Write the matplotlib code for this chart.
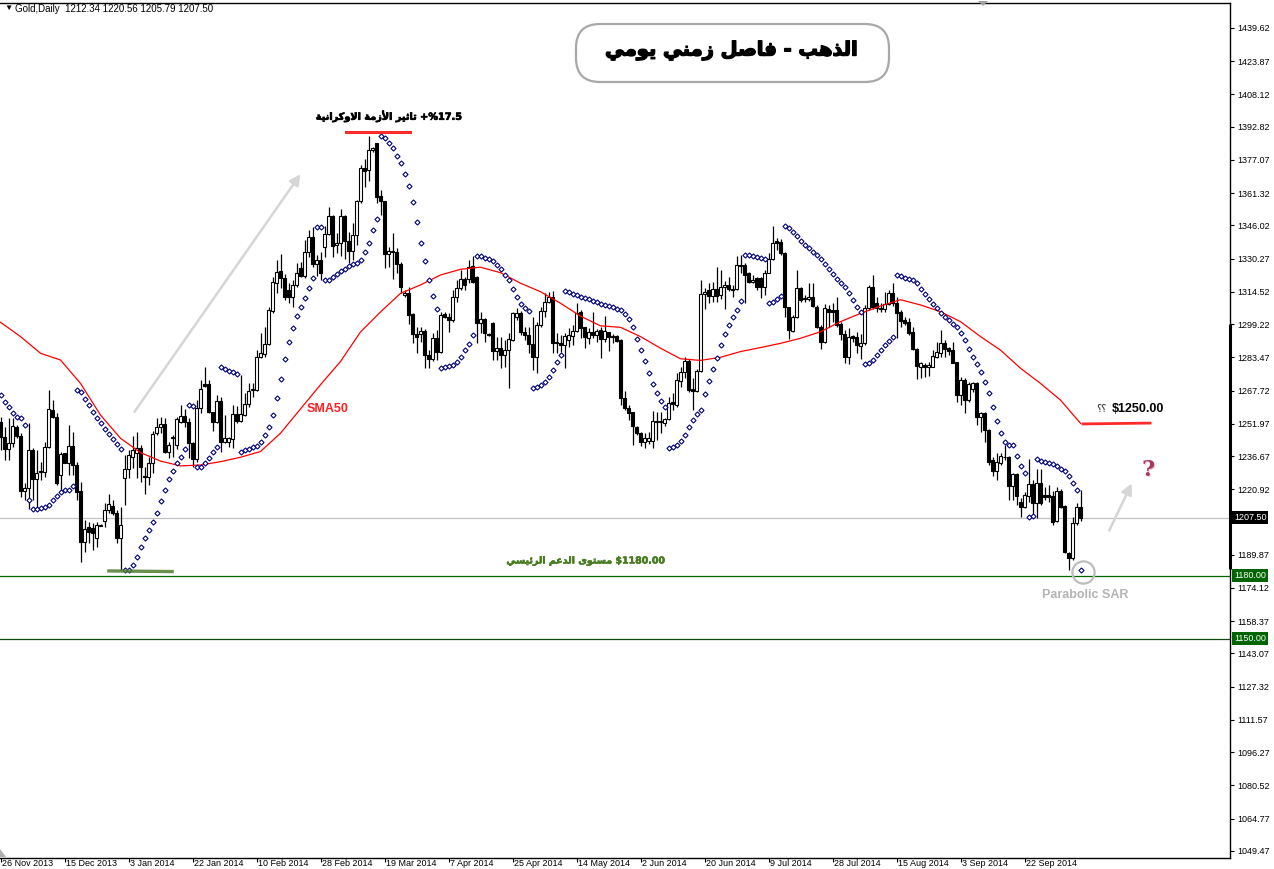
import numpy as np
import matplotlib
matplotlib.use('Agg')
import matplotlib.pyplot as plt
import matplotlib.patheffects as pe
from matplotlib.patches import FancyBboxPatch, Polygon
from matplotlib.transforms import Affine2D, ScaledTranslation, blended_transform_factory

plt.rcParams['font.family'] = ['Liberation Sans', 'DejaVu Sans']

# ---- data (Gold, daily bars) ----
date_labels = ['26 Nov 2013', '15 Dec 2013', '3 Jan 2014', '22 Jan 2014', '10 Feb 2014',
               '28 Feb 2014', '19 Mar 2014', '7 Apr 2014', '25 Apr 2014', '14 May 2014',
               '2 Jun 2014', '20 Jun 2014', '9 Jul 2014', '28 Jul 2014', '15 Aug 2014',
               '3 Sep 2014', '22 Sep 2014']
date_bars = [0, 16, 32, 48, 64, 80, 96, 112, 128, 144, 160, 176, 192, 208, 224, 240, 256]

price_ticks = [1439.62, 1423.87, 1408.12, 1392.82, 1377.07, 1361.32, 1346.02, 1330.27,
               1314.52, 1299.22, 1283.47, 1267.72, 1251.97, 1236.67, 1220.92, 1205.17,
               1189.87, 1174.12, 1158.37, 1143.07, 1127.32, 1111.57, 1096.27, 1080.52,
               1064.77, 1049.47]

opens = [
    1253.0, 1245.9, 1239.9, 1242.7, 1250.6, 1246.2, 1220.3, 1221.4, 1239.5, 1225.6,
    1229.0, 1229.3, 1240.8, 1258.5, 1255.0, 1227.7, 1238.0, 1233.5, 1241.4, 1232.4,
    1220.1, 1196.1, 1202.9, 1202.4, 1198.0, 1204.0, 1206.0, 1211.1, 1213.0, 1209.8,
    1198.0, 1226.1, 1230.4, 1236.4, 1238.0, 1240.3, 1226.9, 1226.9, 1233.2, 1247.8,
    1250.3, 1251.9, 1238.8, 1245.1, 1241.9, 1252.8, 1255.7, 1252.7, 1242.7, 1235.1,
    1259.3, 1270.8, 1270.8, 1257.4, 1253.0, 1262.8, 1243.5, 1243.5, 1244.6, 1256.6,
    1253.4, 1256.1, 1261.2, 1268.0, 1268.0, 1283.5, 1285.0, 1289.6, 1305.6, 1318.6,
    1324.4, 1321.3, 1315.4, 1312.3, 1317.8, 1325.7, 1322.2, 1333.3, 1340.4, 1327.6,
    1329.6, 1336.0, 1341.8, 1350.7, 1336.8, 1337.5, 1350.5, 1338.8, 1334.1, 1341.5,
    1357.6, 1373.1, 1372.3, 1381.8, 1384.9, 1360.0, 1357.6, 1332.5, 1333.3, 1333.6,
    1327.7, 1312.9, 1313.8, 1303.9, 1294.4, 1294.4, 1296.1, 1284.6, 1282.6, 1292.5,
    1286.2, 1303.9, 1302.8, 1301.2, 1311.9, 1316.2, 1320.5, 1320.5, 1327.0, 1321.7,
    1299.6, 1301.5, 1294.4, 1299.6, 1286.5, 1287.8, 1284.6, 1287.0, 1291.7, 1302.8,
    1304.7, 1295.7, 1294.1, 1289.8, 1283.8, 1298.8, 1305.6, 1309.9, 1312.3, 1290.9,
    1290.5, 1289.4, 1291.7, 1293.6, 1296.1, 1305.0, 1297.7, 1292.5, 1295.5, 1294.2,
    1296.5, 1292.0, 1295.4, 1293.0, 1293.8, 1291.7, 1264.1, 1259.3, 1257.6, 1250.6,
    1247.8, 1243.1, 1244.0, 1244.0, 1253.0, 1253.2, 1252.2, 1254.1, 1262.5, 1260.9,
    1272.4, 1276.7, 1281.9, 1268.3, 1267.7, 1277.2, 1313.5, 1315.4, 1312.6, 1315.7,
    1312.9, 1316.7, 1317.6, 1315.7, 1315.7, 1326.8, 1327.3, 1323.3, 1319.4, 1320.9,
    1320.9, 1317.0, 1323.6, 1330.0, 1338.6, 1338.3, 1333.1, 1307.2, 1296.1, 1302.8,
    1316.2, 1311.0, 1311.0, 1311.9, 1307.5, 1298.0, 1290.9, 1306.2, 1305.9, 1305.9,
    1299.3, 1294.5, 1283.5, 1293.6, 1292.9, 1288.8, 1290.1, 1306.7, 1317.0, 1309.4,
    1307.0, 1306.2, 1308.7, 1314.1, 1309.1, 1305.1, 1301.2, 1300.4, 1295.6, 1287.2,
    1279.0, 1279.8, 1279.0, 1279.0, 1283.8, 1285.7, 1290.4, 1287.7, 1286.9, 1281.4,
    1265.6, 1272.7, 1263.2, 1268.3, 1271.5, 1255.3, 1257.2, 1249.0, 1234.8, 1229.7,
    1233.5, 1236.1, 1236.4, 1222.5, 1228.2, 1215.1, 1212.7, 1217.7, 1223.4, 1214.3,
    1223.7, 1218.2, 1218.2, 1217.7, 1206.0, 1220.3, 1213.0, 1190.9, 1188.2, 1204.8,
    1212.34]

highs = [
    1255.3, 1250.6, 1254.5, 1254.5, 1251.4, 1247.4, 1223.7, 1252.2, 1240.3, 1239.5,
    1234.0, 1243.5, 1268.0, 1263.2, 1256.9, 1238.8, 1238.3, 1251.4, 1248.2, 1234.0,
    1224.5, 1206.4, 1205.6, 1204.8, 1205.6, 1204.4, 1214.3, 1218.5, 1215.8, 1211.1,
    1212.7, 1237.2, 1239.5, 1246.2, 1248.2, 1241.9, 1231.6, 1236.4, 1248.7, 1254.5,
    1255.0, 1254.9, 1243.5, 1246.6, 1255.3, 1260.9, 1258.8, 1254.5, 1243.5, 1263.2,
    1272.7, 1278.7, 1272.7, 1257.7, 1265.6, 1264.8, 1256.1, 1245.9, 1260.9, 1260.4,
    1275.1, 1266.7, 1271.5, 1271.5, 1286.9, 1294.8, 1298.0, 1307.5, 1321.7, 1329.6,
    1332.3, 1323.0, 1318.6, 1320.2, 1328.4, 1328.9, 1339.1, 1343.9, 1345.4, 1332.0,
    1333.6, 1345.8, 1354.9, 1351.0, 1342.3, 1353.7, 1351.0, 1343.1, 1347.0, 1358.1,
    1374.7, 1377.4, 1388.4, 1383.4, 1385.3, 1362.8, 1357.8, 1336.0, 1342.3, 1335.2,
    1328.9, 1315.4, 1317.0, 1304.4, 1298.0, 1298.0, 1296.8, 1287.0, 1294.9, 1296.5,
    1305.2, 1305.2, 1304.7, 1315.4, 1320.2, 1324.9, 1321.7, 1329.6, 1331.5, 1322.1,
    1305.2, 1302.0, 1294.9, 1300.4, 1293.3, 1293.3, 1291.7, 1294.9, 1305.2, 1306.7,
    1305.6, 1298.0, 1298.0, 1302.8, 1300.4, 1307.5, 1313.8, 1314.6, 1315.1, 1294.9,
    1294.1, 1294.9, 1297.2, 1298.8, 1309.1, 1305.9, 1298.0, 1297.2, 1305.2, 1296.8,
    1298.0, 1303.1, 1295.7, 1294.6, 1294.1, 1292.0, 1267.7, 1260.9, 1257.7, 1251.0,
    1248.3, 1247.5, 1248.3, 1258.1, 1257.7, 1257.7, 1254.6, 1264.9, 1266.4, 1275.9,
    1279.1, 1283.8, 1282.6, 1273.6, 1277.8, 1320.2, 1316.2, 1318.6, 1319.4, 1326.5,
    1324.9, 1319.8, 1321.7, 1317.6, 1331.5, 1332.0, 1328.4, 1324.1, 1322.5, 1321.7,
    1321.7, 1324.9, 1332.8, 1345.8, 1339.9, 1339.4, 1333.4, 1307.5, 1303.6, 1324.9,
    1316.7, 1313.0, 1318.6, 1318.6, 1308.3, 1298.8, 1308.7, 1308.3, 1309.4, 1312.2,
    1300.4, 1296.4, 1297.2, 1294.0, 1295.6, 1294.5, 1308.3, 1317.8, 1322.5, 1312.2,
    1309.1, 1314.6, 1315.4, 1318.9, 1312.2, 1305.9, 1302.7, 1301.9, 1298.0, 1287.7,
    1281.4, 1280.6, 1281.4, 1286.9, 1290.9, 1296.4, 1291.7, 1288.2, 1290.9, 1281.4,
    1274.3, 1273.5, 1271.9, 1271.9, 1271.9, 1257.7, 1257.7, 1249.3, 1236.4, 1238.0,
    1238.3, 1241.9, 1236.7, 1228.5, 1228.5, 1216.6, 1219.8, 1235.1, 1225.3, 1230.4,
    1230.4, 1222.2, 1222.9, 1220.3, 1222.2, 1220.9, 1213.5, 1191.4, 1207.9, 1214.3,
    1220.56]

lows = [
    1239.5, 1234.8, 1234.8, 1240.8, 1245.1, 1217.4, 1215.8, 1211.4, 1215.8, 1212.7,
    1225.3, 1226.9, 1240.3, 1254.5, 1222.9, 1220.6, 1233.2, 1227.7, 1227.7, 1215.8,
    1186.6, 1191.4, 1195.3, 1192.1, 1193.7, 1203.4, 1203.2, 1209.5, 1208.7, 1195.3,
    1182.7, 1213.5, 1226.1, 1230.9, 1226.1, 1224.5, 1218.5, 1223.0, 1228.5, 1246.6,
    1247.8, 1238.0, 1235.6, 1236.4, 1239.9, 1252.2, 1250.6, 1235.6, 1231.6, 1234.0,
    1256.9, 1269.6, 1256.9, 1248.7, 1252.2, 1238.8, 1242.7, 1241.1, 1240.3, 1252.2,
    1253.0, 1255.8, 1260.1, 1264.8, 1267.7, 1283.3, 1283.8, 1289.3, 1304.6, 1313.8,
    1316.2, 1310.7, 1309.4, 1307.5, 1317.0, 1321.7, 1320.9, 1330.9, 1326.5, 1322.1,
    1320.2, 1331.2, 1341.5, 1331.2, 1332.8, 1331.5, 1330.0, 1328.1, 1329.6, 1336.8,
    1356.8, 1364.4, 1367.2, 1381.0, 1356.5, 1351.0, 1325.7, 1326.5, 1320.5, 1323.3,
    1313.8, 1312.3, 1299.3, 1290.1, 1285.4, 1290.9, 1278.3, 1278.3, 1281.9, 1282.2,
    1285.7, 1302.0, 1295.7, 1300.4, 1309.9, 1315.4, 1315.4, 1318.9, 1318.6, 1290.1,
    1294.9, 1290.9, 1293.6, 1282.2, 1282.2, 1278.3, 1279.1, 1268.8, 1291.4, 1301.2,
    1294.1, 1291.7, 1285.4, 1277.5, 1275.9, 1298.0, 1302.8, 1309.1, 1285.4, 1285.4,
    1286.2, 1278.3, 1288.6, 1289.4, 1295.7, 1292.5, 1287.8, 1289.8, 1292.5, 1290.9,
    1283.0, 1290.9, 1286.7, 1290.5, 1290.9, 1260.9, 1258.5, 1253.8, 1242.0, 1246.7,
    1241.2, 1240.4, 1242.4, 1240.4, 1244.3, 1247.5, 1251.0, 1253.8, 1258.5, 1260.1,
    1269.6, 1273.6, 1267.2, 1258.5, 1267.2, 1276.7, 1306.3, 1309.1, 1309.9, 1309.9,
    1311.0, 1306.3, 1315.1, 1312.3, 1315.4, 1323.3, 1309.4, 1318.6, 1318.6, 1315.4,
    1311.5, 1313.0, 1323.3, 1329.6, 1334.4, 1332.0, 1302.8, 1292.0, 1295.7, 1302.0,
    1309.9, 1309.9, 1310.4, 1307.2, 1297.2, 1287.2, 1290.4, 1298.0, 1300.4, 1298.0,
    1291.7, 1280.6, 1280.3, 1290.9, 1285.4, 1282.5, 1289.3, 1305.9, 1306.2, 1305.1,
    1305.1, 1305.1, 1308.3, 1307.8, 1292.5, 1298.0, 1298.8, 1294.0, 1286.9, 1273.0,
    1273.5, 1274.3, 1274.6, 1278.7, 1283.0, 1283.8, 1283.8, 1284.6, 1280.6, 1262.5,
    1260.9, 1256.9, 1262.5, 1267.2, 1251.4, 1248.2, 1243.5, 1232.4, 1227.2, 1225.3,
    1232.4, 1234.8, 1215.8, 1215.8, 1213.5, 1207.9, 1211.9, 1215.1, 1208.7, 1207.2,
    1213.5, 1215.8, 1215.1, 1204.0, 1205.6, 1211.9, 1190.6, 1182.7, 1187.4, 1204.0,
    1205.79]

closes = [
    1245.9, 1239.9, 1242.7, 1251.1, 1246.2, 1220.3, 1221.4, 1239.5, 1225.6, 1228.5,
    1229.6, 1240.8, 1258.8, 1255.3, 1223.7, 1237.6, 1233.5, 1241.4, 1232.4, 1219.8,
    1196.1, 1201.9, 1200.8, 1200.0, 1204.0, 1203.7, 1211.1, 1213.9, 1209.5, 1198.0,
    1204.0, 1230.4, 1237.2, 1239.5, 1240.3, 1231.3, 1226.7, 1233.5, 1247.0, 1250.6,
    1251.9, 1238.8, 1241.9, 1245.5, 1254.1, 1255.7, 1253.0, 1242.7, 1235.1, 1259.3,
    1268.3, 1269.9, 1257.4, 1253.0, 1262.8, 1243.5, 1245.1, 1245.1, 1256.4, 1253.4,
    1256.4, 1261.2, 1267.7, 1268.6, 1283.5, 1285.4, 1289.6, 1305.9, 1319.0, 1324.1,
    1321.3, 1312.3, 1312.3, 1317.8, 1323.6, 1322.2, 1333.3, 1340.4, 1327.6, 1329.6,
    1323.6, 1341.8, 1350.7, 1336.3, 1337.5, 1350.5, 1338.8, 1334.1, 1341.5, 1357.6,
    1373.1, 1372.0, 1381.8, 1382.6, 1359.7, 1357.6, 1332.5, 1333.9, 1333.6, 1327.6,
    1317.0, 1314.2, 1303.6, 1294.4, 1293.0, 1296.1, 1284.6, 1282.6, 1292.5, 1286.2,
    1303.6, 1302.8, 1301.2, 1312.3, 1316.2, 1320.5, 1317.8, 1326.5, 1319.4, 1299.6,
    1301.5, 1295.2, 1294.2, 1286.5, 1287.8, 1284.6, 1287.0, 1292.0, 1304.4, 1304.4,
    1295.4, 1294.1, 1289.8, 1283.8, 1298.8, 1305.6, 1309.9, 1312.3, 1290.5, 1290.1,
    1289.2, 1293.6, 1294.1, 1296.1, 1304.7, 1297.2, 1293.0, 1295.5, 1293.9, 1296.1,
    1292.0, 1296.0, 1293.0, 1293.6, 1291.4, 1264.1, 1259.3, 1257.3, 1251.0, 1247.5,
    1243.1, 1245.1, 1245.1, 1253.3, 1253.2, 1252.7, 1254.1, 1262.0, 1261.4, 1272.8,
    1276.7, 1281.9, 1268.0, 1267.7, 1277.2, 1313.5, 1314.6, 1312.6, 1315.7, 1312.6,
    1316.7, 1317.6, 1315.7, 1315.4, 1327.3, 1327.3, 1322.5, 1319.4, 1320.2, 1316.7,
    1317.0, 1323.6, 1330.0, 1337.9, 1337.9, 1332.8, 1307.2, 1296.5, 1302.8, 1316.2,
    1310.7, 1311.5, 1311.9, 1307.8, 1298.0, 1290.9, 1306.7, 1305.1, 1305.1, 1298.8,
    1294.5, 1283.5, 1292.9, 1292.5, 1289.3, 1290.1, 1306.7, 1317.0, 1307.5, 1306.7,
    1306.2, 1308.7, 1313.8, 1309.1, 1304.3, 1300.8, 1299.9, 1295.2, 1287.2, 1279.4,
    1280.6, 1278.7, 1279.8, 1284.1, 1286.2, 1290.1, 1287.2, 1286.6, 1280.9, 1265.6,
    1272.7, 1263.2, 1270.8, 1271.1, 1255.3, 1257.2, 1249.0, 1234.0, 1229.7, 1234.0,
    1236.7, 1236.4, 1222.5, 1228.2, 1217.7, 1212.4, 1218.2, 1223.4, 1214.3, 1223.7,
    1214.6, 1217.4, 1217.1, 1205.6, 1220.3, 1212.7, 1191.4, 1188.2, 1204.8, 1212.4,
    1207.50]

# SMA(50) as drawn on the chart, read every 5 bars
sma_bars = list(range(0, 271, 5))
sma50 = [
    1300.1, 1293.3, 1285.4, 1282.2, 1271.1, 1256.1, 1245.1, 1238.3, 1234.3, 1232.0,
    1232.4, 1234.0, 1236.1, 1238.8, 1247.5, 1259.0, 1270.5, 1281.5, 1295.5, 1305.0,
    1313.8, 1317.8, 1322.5, 1325.2, 1326.2, 1323.6, 1318.6, 1314.6, 1309.1, 1303.0,
    1298.4, 1297.7, 1293.3, 1287.8, 1282.8, 1282.0, 1283.5, 1286.2, 1288.1, 1290.1,
    1292.5, 1295.6, 1300.4, 1304.3, 1307.8, 1310.8, 1308.3, 1305.1, 1300.4, 1293.3,
    1286.9, 1278.3, 1271.1, 1263.2, 1252.2]

last_price = 1207.50
support_main = 1180.00
support_low = 1150.00
target_price = 1250.00
crisis_top = 1390.3
dec_low = 1182.2


# ---- minimal Arabic shaping (matplotlib has no shaping / bidi) ----
FORMS = {  # isolated, final, initial, medial
    'ا': (0xFE8D, 0xFE8E, None, None), 'أ': (0xFE83, 0xFE84, None, None),
    'ب': (0xFE8F, 0xFE90, 0xFE91, 0xFE92), 'ة': (0xFE93, 0xFE94, None, None),
    'ت': (0xFE95, 0xFE96, 0xFE97, 0xFE98), 'ث': (0xFE99, 0xFE9A, 0xFE9B, 0xFE9C),
    'د': (0xFEA9, 0xFEAA, None, None), 'ذ': (0xFEAB, 0xFEAC, None, None),
    'ر': (0xFEAD, 0xFEAE, None, None), 'ز': (0xFEAF, 0xFEB0, None, None),
    'س': (0xFEB1, 0xFEB2, 0xFEB3, 0xFEB4), 'ص': (0xFEB9, 0xFEBA, 0xFEBB, 0xFEBC),
    'ع': (0xFEC9, 0xFECA, 0xFECB, 0xFECC), 'ف': (0xFED1, 0xFED2, 0xFED3, 0xFED4),
    'ك': (0xFED9, 0xFEDA, 0xFEDB, 0xFEDC), 'ل': (0xFEDD, 0xFEDE, 0xFEDF, 0xFEE0),
    'م': (0xFEE1, 0xFEE2, 0xFEE3, 0xFEE4), 'ن': (0xFEE5, 0xFEE6, 0xFEE7, 0xFEE8),
    'ه': (0xFEE9, 0xFEEA, 0xFEEB, 0xFEEC), 'و': (0xFEED, 0xFEEE, None, None),
    'ى': (0xFEEF, 0xFEF0, None, None), 'ي': (0xFEF1, 0xFEF2, 0xFEF3, 0xFEF4),
    'ئ': (0xFE89, 0xFE8A, 0xFE8B, 0xFE8C),
}
LAM_ALEF = {'ا': (0xFEFB, 0xFEFC), 'أ': (0xFEF7, 0xFEF8)}


def joins_left(ch):
    return ch in FORMS and FORMS[ch][2] is not None


def arabic(text):
    out = []
    i = 0
    while i < len(text):
        c = text[i]
        prev = text[i - 1] if i > 0 else ''
        if c == 'ل' and i + 1 < len(text) and text[i + 1] in LAM_ALEF:
            iso, fin = LAM_ALEF[text[i + 1]]
            out.append(chr(fin if joins_left(prev) else iso))
            i += 2
            continue
        if c not in FORMS:
            out.append(c)
            i += 1
            continue
        iso, fin, ini, med = FORMS[c]
        p = joins_left(prev)
        n = ini is not None and i + 1 < len(text) and text[i + 1] in FORMS
        out.append(chr(med if (p and n) else fin if p else ini if n else iso))
        i += 1
    return ''.join(out)[::-1]   # visual (left-to-right) order


def parabolic_sar(hi, lo, sar0, ep0, af0, step=0.02, af_max=0.2):
    sar, up, ep, af = [sar0], False, ep0, af0
    for i in range(1, len(hi)):
        s = sar[-1] + af * (ep - sar[-1])
        if up:
            s = min(s, lo[i - 1], lo[max(i - 2, 0)])
            if lo[i] < s:
                up, s, ep, af = False, ep, lo[i], step
            elif hi[i] > ep:
                ep, af = hi[i], min(af + step, af_max)
        else:
            s = max(s, hi[i - 1], hi[max(i - 2, 0)])
            if hi[i] > s:
                up, s, ep, af = True, ep, hi[i], step
            elif lo[i] < ep:
                ep, af = lo[i], min(af + step, af_max)
        sar.append(s)
    return sar


W, H = 1274, 869
fig = plt.figure(figsize=(W / 100, H / 100), dpi=100)
ax = fig.add_axes([0, 11 / H, 1230 / W, 855.5 / H])
ax.set_xlim(-0.125, 307.375)
ax.set_ylim(1046.1, 1451.7)
pix = Affine2D().scale(1 / W, 1 / H) + fig.transFigure   # image pixels (y up)

o = np.array(opens)
h = np.array(highs)
l = np.array(lows)
c = np.array(closes)
x = np.arange(len(c))
bull = c >= o

# level lines
ax.axhline(last_price, color='#c0c0c0', lw=0.9, zorder=1)
ax.axhline(support_main, color='#006400', lw=0.9, zorder=1)
ax.axhline(support_low, color='#0f4a0f', lw=0.9, zorder=1)

# candles
ax.vlines(x, l, h, color='black', lw=0.9, zorder=3)
body_lo = np.minimum(o, c)
body_h = np.maximum(np.abs(c - o), 0.35)
ax.bar(x[bull], body_h[bull], bottom=body_lo[bull], width=0.72, color='white',
       edgecolor='black', linewidth=0.8, zorder=4)
ax.bar(x[~bull], body_h[~bull], bottom=body_lo[~bull], width=0.72, color='black',
       edgecolor='black', linewidth=0.8, zorder=4)

# indicators
ax.plot(sma_bars, sma50, color='#ff0000', lw=0.9, zorder=5)
sar = parabolic_sar(highs, lows, 1265.6, 1234.8, 0.1)
ax.plot(x, sar, ls='none', marker='D', ms=2.6, mfc='white', mec='#000080', mew=0.8, zorder=5)

# drawings
ax.plot([86.4, 102.4], [crisis_top, crisis_top], color='#ff2a2a', lw=2.2, zorder=6)
ax.plot([270.6, 287.4], [target_price + 1.9, target_price + 2.3], color='#ff2a2a', lw=2.0, zorder=6)
ax.plot([27.1, 42.9], [dec_low, dec_low - 0.3], color='#4f7a2f', lw=2.4, alpha=0.85, zorder=6)
ax.annotate('', xy=(75.4, 1371.4), xytext=(33.1, 1256.6),
            arrowprops=dict(arrowstyle='-|>', color='#d6d6d6', lw=1.8, mutation_scale=16))
ax.annotate('', xy=(283.1, 1224.9), xytext=(276.9, 1200.2),
            arrowprops=dict(arrowstyle='-|>', color='#d6d6d6', lw=1.8, mutation_scale=16))
ax.plot([270.6], [1181.7], ls='none', marker='o', ms=16, mfc='none', mec='#bdbdbd', mew=1.6, zorder=6)

# texts on the chart
bold_fx = [pe.withStroke(linewidth=0.5, foreground='black')]
ax.text(97.1, 1397.9, arabic('تاثير الأزمة الاوكرانية') + ' +%17.5', family='DejaVu Sans',
        weight='bold', fontsize=7, ha='center', va='center', zorder=7, path_effects=bold_fx)
ax.text(81.7, 1259.0, 'SMA50', color='#ff2020', weight='bold', fontsize=9,
        ha='center', va='center', zorder=7)
ax.text(146.4, 1186.9, arabic('مستوى الدعم الرئيسي') + ' $1180.00', family='DejaVu Sans',
        color='#487c20', weight='bold', fontsize=6.8, ha='center', va='center', zorder=7,
        path_effects=[pe.withStroke(linewidth=0.4, foreground='#487c20')])
ax.text(275.3, 1258.8, '؟؟', family='DejaVu Sans', fontsize=7, ha='center', va='center',
        color='#333333', zorder=7)
ax.text(277.8, 1258.8, '$1250.00', weight='bold', fontsize=9, ha='left', va='center', zorder=7)
ax.text(271.1, 1170.8, 'Parabolic SAR', color='#b4b4b4', weight='bold', fontsize=9,
        ha='center', va='center', zorder=7)
ax.text(287.1, 1229.4, '?', family='DejaVu Serif', color='#e9c9d2', weight='bold',
        fontsize=16, ha='center', va='center', zorder=7)
ax.text(286.9, 1230.1, '?', family='DejaVu Serif', color='#a8385a', weight='bold',
        fontsize=16, ha='center', va='center', zorder=7)

# axes look (MetaTrader style)
ax.spines['left'].set_visible(False)
for side in ('top', 'right', 'bottom'):
    ax.spines[side].set_linewidth(1.0)
    ax.spines[side].set_color('black')
ax.yaxis.tick_right()
ax.set_yticks(price_ticks)
# the 1205.17 label sits under the highlighted last-price box
ax.set_yticklabels(['' if abs(p - 1205.17) < 0.01 else f'{p:.2f}' for p in price_ticks])
ax.tick_params(axis='y', direction='out', length=3, width=0.8, pad=2, labelsize=6.5)
ax.set_xticks(date_bars)
ax.set_xticklabels(date_labels, ha='left')
ax.tick_params(axis='x', direction='out', length=3, width=0.8, pad=-2.6, labelsize=6.5)
shift = ScaledTranslation(2 / 100, 0, fig.dpi_scale_trans)
for lbl in ax.get_xticklabels():
    lbl.set_transform(lbl.get_transform() + shift)

# marker bar on the price scale
yblend = blended_transform_factory(ax.transAxes, ax.transData)
ax.plot([1.0, 1.0], [1299.5, 1183.0], transform=yblend, color='black', lw=2.2,
        clip_on=False, zorder=8, solid_capstyle='butt')

# highlighted price labels
for val, bg in ((last_price, 'black'), (support_main, '#006400'), (support_low, '#006400')):
    ax.text(1 + 4 / 1230, val, f'{val:.2f}', transform=yblend, fontsize=6.5, color='white',
            ha='left', va='center', zorder=9, clip_on=False,
            bbox=dict(boxstyle='square,pad=0.22', fc=bg, ec='none'))

# header
fig.text(4 / W, 1 - 8.5 / H, '▼', fontsize=6, va='center', ha='left')
fig.text(15 / W, 1 - 8.5 / H, 'Gold,Daily  1212.34 1220.56 1205.79 1207.50',
         fontsize=7, va='center', ha='left')

# title box
box = FancyBboxPatch((576, H - 82), 313, 58, boxstyle='round,pad=0,rounding_size=24',
                     transform=pix, fc='white', ec='#a8a8a8', lw=1.6, zorder=10)
fig.patches.append(box)
fig.text(732 / W, 1 - 51 / H, arabic('الذهب - فاصل زمني يومي'), family='DejaVu Sans',
         weight='bold', fontsize=14, ha='center', va='center', zorder=11,
         path_effects=[pe.withStroke(linewidth=1.0, foreground='black')])

# small shift markers of the terminal
fig.patches.append(Polygon([(978, H - 1), (988, H - 1), (983, H - 6)], closed=True,
                           transform=pix, fc='#a0a0a0', ec='none'))
fig.patches.append(Polygon([(0, H - 849), (0, H - 857), (6, H - 857)], closed=True,
                           transform=pix, fc='#b0b0b0', ec='none'))

fig.savefig('out.png', dpi=100)
